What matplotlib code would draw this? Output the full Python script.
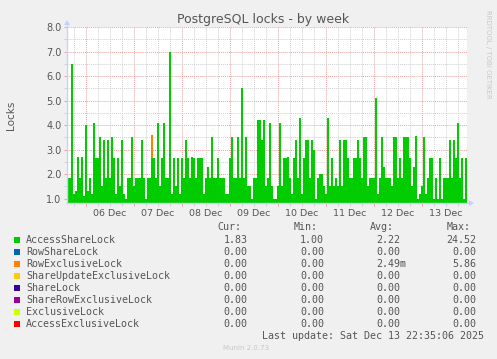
import numpy as np
import matplotlib
matplotlib.use("Agg")
import matplotlib.pyplot as plt
import matplotlib.dates as mdates
from matplotlib.patches import Rectangle

# hourly samples, Dec 5 14:35 -> Dec 13 22:35
access_share = [
    1.83, 1.83, 6.5, 1.2, 1.3, 2.7, 1.83, 2.7, 1.1, 4.0,
    1.3, 1.83, 1.2, 4.1, 2.65, 2.65, 3.5, 1.5, 3.4, 1.83,
    3.4, 1.83, 3.5, 2.65, 1.2, 2.65, 1.5, 3.4, 1.2, 1.0,
    1.83, 1.83, 3.5, 1.5, 1.83, 1.83, 1.83, 3.4, 1.83, 1.0,
    1.83, 1.83, 2.65, 2.65, 1.83, 4.1, 1.5, 2.65, 4.1, 1.83,
    1.83, 7.0, 1.2, 2.65, 1.5, 2.65, 1.2, 2.65, 1.83, 3.4,
    2.65, 1.83, 2.7, 2.65, 1.83, 2.65, 2.65, 2.65, 1.2, 1.83,
    2.3, 1.83, 3.5, 1.83, 1.83, 2.65, 1.83, 1.83, 1.83, 1.2,
    1.2, 2.65, 3.5, 1.83, 1.83, 3.5, 1.83, 5.5, 1.83, 3.5,
    1.5, 1.5, 1.0, 1.83, 1.83, 4.2, 4.2, 3.4, 4.2, 1.5,
    1.83, 4.1, 1.5, 1.0, 1.0, 1.5, 4.1, 1.5, 2.65, 2.65,
    2.7, 1.83, 1.2, 2.65, 3.4, 1.83, 4.3, 1.2, 2.65, 3.4,
    3.4, 1.83, 3.4, 3.0, 1.0, 1.83, 2.0, 2.0, 1.5, 1.2,
    4.3, 1.5, 2.65, 1.5, 1.83, 1.5, 3.4, 1.5, 3.4, 3.4,
    2.65, 1.83, 1.83, 2.65, 2.65, 3.4, 2.65, 1.83, 3.5, 3.5,
    1.5, 1.83, 1.83, 1.83, 5.1, 1.2, 1.83, 3.5, 2.3, 1.83,
    1.83, 1.83, 1.5, 3.5, 3.5, 1.83, 2.65, 1.83, 3.5, 3.5,
    3.5, 2.65, 1.5, 2.3, 3.55, 1.0, 1.2, 1.5, 3.5, 1.2,
    1.83, 2.65, 2.65, 1.0, 1.83, 1.0, 2.65, 1.0, 1.83, 1.83,
    1.83, 3.4, 1.83, 3.4, 2.65, 4.1, 1.83, 2.65, 1.0, 2.65,
]
row_exclusive = np.zeros(len(access_share))
row_exclusive[42] = 0.95

names = ["AccessShareLock", "RowShareLock", "RowExclusiveLock",
         "ShareUpdateExclusiveLock", "ShareLock", "ShareRowExclusiveLock",
         "ExclusiveLock", "AccessExclusiveLock"]
colors = ["#00cc00", "#0066b3", "#ff8000", "#ffcc00",
          "#330099", "#990099", "#ccff00", "#ff0000"]
cur = ["1.83", "0.00", "0.00", "0.00", "0.00", "0.00", "0.00", "0.00"]
mins = ["1.00", "0.00", "0.00", "0.00", "0.00", "0.00", "0.00", "0.00"]
avgs = ["2.22", "0.00", "2.49m", "0.00", "0.00", "0.00", "0.00", "0.00"]
maxs = ["24.52", "0.00", "5.86", "0.00", "0.00", "0.00", "0.00", "0.00"]
day_labels = ["06 Dec", "07 Dec", "08 Dec", "09 Dec", "10 Dec", "11 Dec", "12 Dec", "13 Dec"]

W, H = 497, 359
YMIN, YMAX = 0.82, 8.0
txt = "#555555"
axis_col = "#c8d0ff"


def fx(x):
    return x / W


def fy(y):
    return 1 - y / H


fig = plt.figure(figsize=(W / 100, H / 100), dpi=100, facecolor="#f0f0f0")
ax = fig.add_axes([fx(67), fy(203), 400 / W, 176 / H])
ax.set_facecolor("white")

start = np.datetime64("2025-12-05T14:35")
hour = np.timedelta64(1, "h")
t = mdates.date2num(start + np.arange(len(access_share) + 1) * hour)
v = np.append(access_share, access_share[-1])
r = np.append(row_exclusive, 0)

ax.fill_between(t, YMIN, v, step="post", color=colors[0], lw=0, zorder=2)
ax.fill_between(t, v, v + r, step="post", color=colors[2], lw=0, zorder=2)

ax.set_xlim(t[0], t[-1])
ax.set_ylim(YMIN, YMAX)

days = np.arange(np.datetime64("2025-12-06"), np.datetime64("2025-12-14"))
mid = mdates.date2num(days)
six = mdates.date2num(np.arange(np.datetime64("2025-12-05T18"), np.datetime64("2025-12-13T23"),
                                np.timedelta64(6, "h")))
six = [s for s in six if not np.any(np.isclose(s, mid))]
ax.set_xticks(mid)
ax.set_xticks(six, minor=True)
ax.set_xticklabels([])
ax.set_yticks(np.arange(1, 9))
ax.set_yticks(np.arange(1.5, 8, 1.0), minor=True)
ax.set_yticklabels(["%.1f" % y for y in range(1, 9)], fontsize=7, color=txt)

ax.grid(which="major", color="#f0a0a0", ls=(0, (1, 1)), lw=0.7, zorder=1)
ax.grid(which="minor", color="#d0d0d0", ls=(0, (1, 1)), lw=0.7, zorder=1)
ax.set_axisbelow(True)
ax.tick_params(which="major", length=2, width=0.7, color="#f0a0a0", pad=2)
ax.tick_params(which="minor", length=2, width=0.7, color="#d0d0d0")
for s in ax.spines.values():
    s.set_visible(False)

for i, lab in enumerate(day_labels):
    ax.text(mid[i] + 0.5, -0.057, lab, transform=ax.get_xaxis_transform(),
            ha="center", va="center", fontsize=6.8, color=txt)

# axis lines with arrows
fig.add_artist(plt.Line2D([fx(67), fx(67)], [fy(203), fy(24)], color=axis_col, lw=1))
fig.add_artist(plt.Line2D([fx(67), fx(470)], [fy(203), fy(203)], color=axis_col, lw=1))
fig.add_artist(plt.Polygon([[fx(64), fy(25)], [fx(70), fy(25)], [fx(67), fy(20)]],
                           closed=True, color=axis_col, lw=0))
fig.add_artist(plt.Polygon([[fx(469), fy(200)], [fx(469), fy(206)], [fx(474), fy(203)]],
                           closed=True, color=axis_col, lw=0))

fig.text(fx(263), fy(20), "PostgreSQL locks - by week", ha="center", va="center",
         fontsize=9, color=txt)
fig.text(fx(11), fy(115), "Locks", rotation=90, ha="center", va="center",
         fontsize=7.5, color=txt)
fig.text(fx(488), fy(54), "RRDTOOL / TOBI OETIKER", rotation=270, ha="center",
         va="center", fontsize=5, color="#c8c8c8")

mono = "DejaVu Sans Mono"
fs = 7.2
cw = 6.0
for x, h in zip([217, 294, 370, 447], ["Cur:", "Min:", "Avg:", "Max:"]):
    fig.text(fx(x), fy(227.5), h, family=mono, fontsize=fs, color=txt, va="center")

for i, name in enumerate(names):
    y = 239.7 + 12 * i
    fig.add_artist(Rectangle((fx(14), fy(y + 3)), 6 / W, 6 / H, color=colors[i], lw=0))
    fig.text(fx(26), fy(y), name, family=mono, fontsize=fs, color=txt, va="center")
    fig.text(fx(223.3), fy(y), cur[i], family=mono, fontsize=fs, color=txt, va="center")
    fig.text(fx(300), fy(y), mins[i], family=mono, fontsize=fs, color=txt, va="center")
    fig.text(fx(376.7), fy(y), avgs[i], family=mono, fontsize=fs, color=txt, va="center")
    fig.text(fx(476.7 - cw * len(maxs[i])), fy(y), maxs[i], family=mono, fontsize=fs,
             color=txt, va="center")

fig.text(fx(261.7), fy(336), "Last update: Sat Dec 13 22:35:06 2025", family=mono,
         fontsize=fs, color=txt, va="center")
fig.text(fx(223), fy(348.5), "Munin 2.0.73", fontsize=5, color="#c8c8c8", va="center")

fig.savefig("out.png", dpi=100, facecolor=fig.get_facecolor())
